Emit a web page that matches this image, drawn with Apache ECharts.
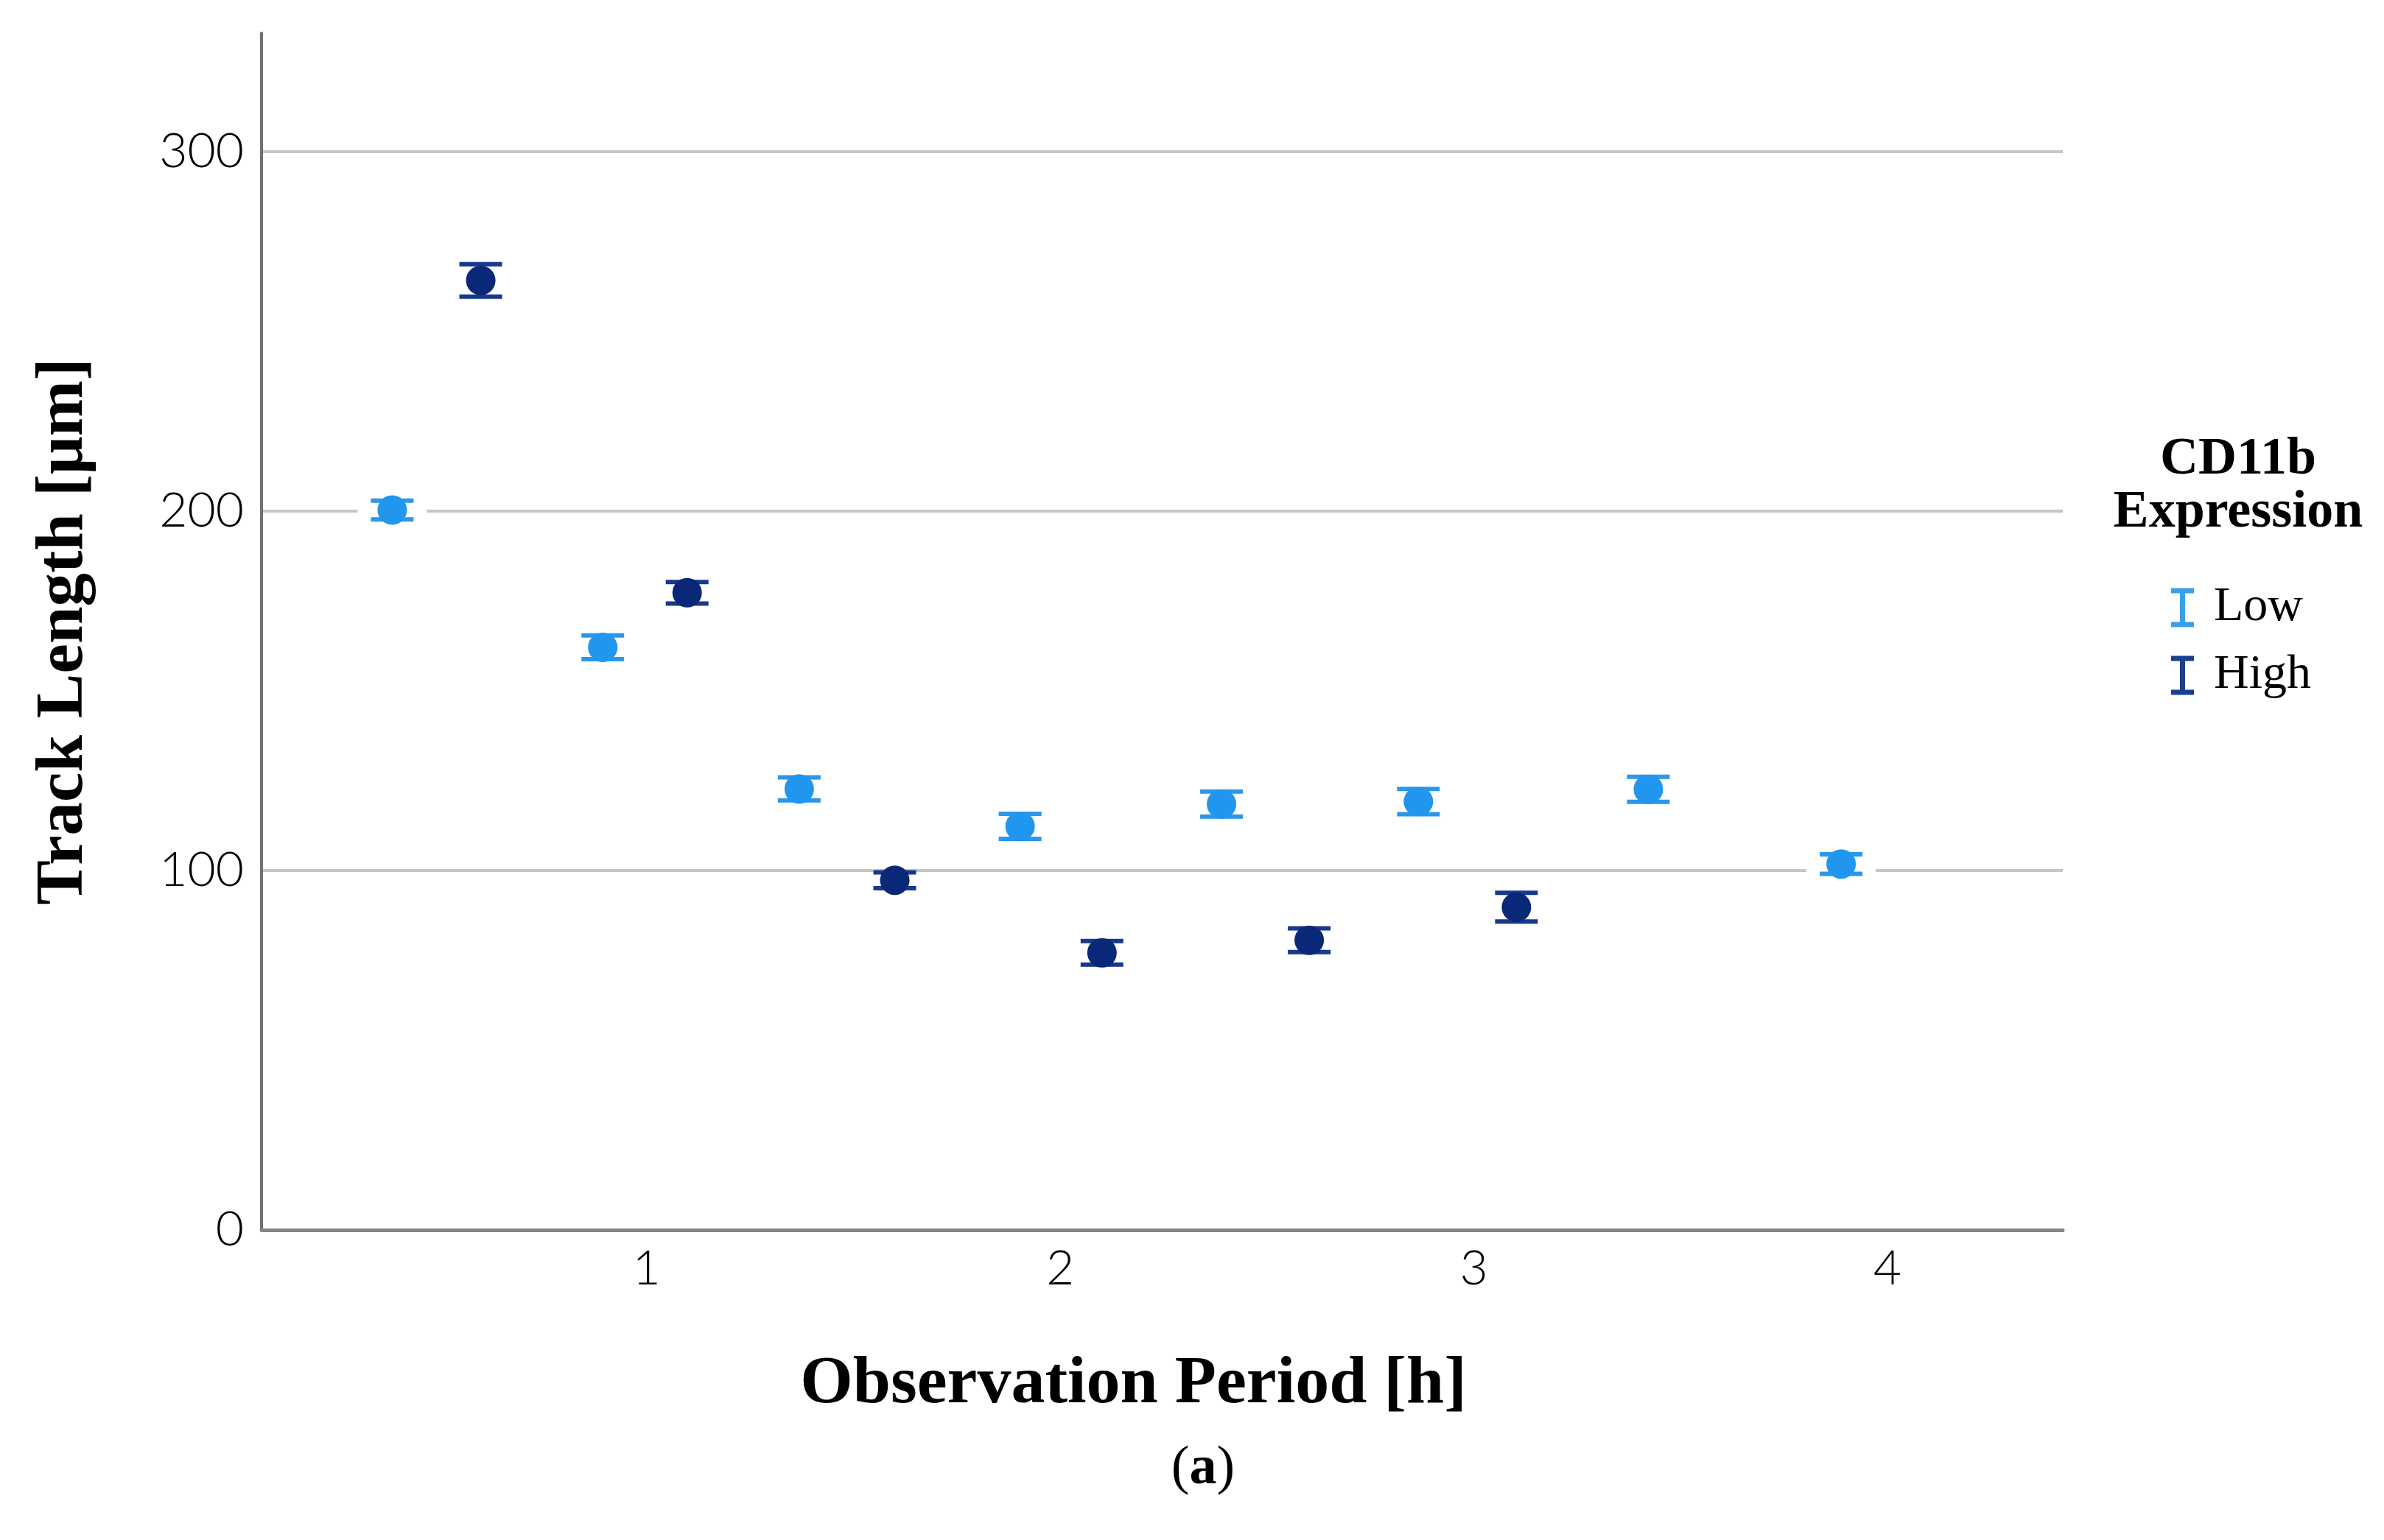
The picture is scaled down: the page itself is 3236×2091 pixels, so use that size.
<!DOCTYPE html>
<html>
<head>
<meta charset="utf-8">
<script src="https://cdn.jsdelivr.net/npm/echarts@6/dist/echarts.min.js"></script>
<style>
html,body{margin:0;padding:0;background:#fff;}
#chart{width:3236px;height:2091px;}
</style>
</head>
<body>
<div id="chart"></div>
<script>
// ---- data ----
const xTickValues = [1, 2, 3, 4];
const yTickValues = [0, 100, 200, 300];
const seriesNames = ['Low', 'High'];
const lowX    = [0.385, 0.894, 1.369, 1.903, 2.390, 2.866, 3.422, 3.888];
const lowMean = [200.3, 162.1, 122.7, 112.3, 118.5, 119.2, 122.6, 101.8];
const lowErr  = [2.6, 3.3, 3.2, 3.5, 3.5, 3.5, 3.5, 2.7];
const highX    = [0.599, 1.098, 1.600, 2.101, 2.602, 3.103];
const highMean = [264.2, 177.3, 97.3, 77.1, 80.6, 89.8];
const highErr  = [4.5, 3.0, 2.2, 3.3, 3.3, 4.0];

const SERIF = '"Liberation Serif", "DejaVu Serif", serif';
const SANS = 'Lato, "Open Sans", sans-serif';

function makeData(xs, ms, es) {
  return xs.map((x, i) => [x, ms[i], es[i]]);
}

function errRender(markerColor, capColor, halo) {
  return function (params, api) {
    const x = api.value(0), m = api.value(1), e = api.value(2);
    const c = api.coord([x, m]);
    const top = api.coord([x, m + e]);
    const bot = api.coord([x, m - e]);
    const hw = 29, pad = 18;
    const children = [];
    if (halo) {
      children.push({ type: 'rect', shape: { x: c[0] - hw - pad, y: top[1] - pad, width: 2 * (hw + pad), height: bot[1] - top[1] + 2 * pad }, style: { fill: '#ffffff' } });
    }
    children.push(
      { type: 'line', shape: { x1: c[0], y1: top[1], x2: c[0], y2: bot[1] }, style: { stroke: capColor, lineWidth: 5 } },
      { type: 'line', shape: { x1: c[0] - hw, y1: top[1], x2: c[0] + hw, y2: top[1] }, style: { stroke: capColor, lineWidth: 6 } },
      { type: 'line', shape: { x1: c[0] - hw, y1: bot[1], x2: c[0] + hw, y2: bot[1] }, style: { stroke: capColor, lineWidth: 6 } },
      { type: 'circle', shape: { cx: c[0], cy: c[1], r: 20 }, style: { fill: markerColor } }
    );
    return { type: 'group', children: children };
  };
}

const chart = echarts.init(document.getElementById('chart'), null, { renderer: 'canvas' });
const ibeam = 'path://M0,0 H31 V7 H19 V46 H31 V53 H0 V46 H12 V7 H0 Z';

chart.setOption({
  backgroundColor: '#ffffff',
  animation: false,
  grid: { left: 355, right: 436, top: 45, bottom: 421, containLabel: false },
  xAxis: {
    type: 'value',
    min: 0.069, max: 4.424,
    name: 'Observation Period [h]',
    nameLocation: 'middle',
    nameGap: 164,
    nameTextStyle: { fontFamily: SERIF, fontWeight: 'bold', fontSize: 92, color: '#000', padding: [0, 78, 0, 0] },
    axisLine: { show: true, lineStyle: { color: '#858585', width: 5 } },
    axisTick: { show: false, customValues: xTickValues },
    axisLabel: { customValues: xTickValues, fontFamily: SANS, fontWeight: 300, fontSize: 66, color: '#000', margin: 20 },
    splitLine: { show: false }
  },
  yAxis: {
    type: 'value',
    min: 0, max: 333,
    name: 'Track Length [μm]',
    nameLocation: 'middle',
    nameRotate: 90,
    nameGap: 222,
    nameTextStyle: { fontFamily: SERIF, fontWeight: 'bold', fontSize: 91, color: '#000' },
    axisLine: { show: true, lineStyle: { color: '#707070', width: 4 } },
    axisTick: { show: false, customValues: yTickValues },
    axisLabel: { customValues: yTickValues, fontFamily: SANS, fontWeight: 300, fontSize: 66, color: '#000', margin: 24 },
    splitLine: { show: true, lineStyle: { color: '#c6c6c6', width: 4 } }
  },
  legend: {
    orient: 'vertical',
    left: 2942, top: 787,
    itemWidth: 31, itemHeight: 53, itemGap: 26,
    icon: ibeam,
    textStyle: { fontFamily: SERIF, fontSize: 66, color: '#000', padding: [0, 0, 0, 22] },
    data: [
      { name: seriesNames[0], itemStyle: { color: '#3a9fea' } },
      { name: seriesNames[1], itemStyle: { color: '#1b3f8e' } }
    ]
  },
  graphic: [
    { type: 'text', x: 3038, y: 588, style: { text: 'CD11b\nExpression', fontFamily: SERIF, fontWeight: 'bold', fontSize: 72, lineHeight: 72, fill: '#000', align: 'center', verticalAlign: 'top' } },
    { type: 'text', x: 1633, y: 1958, style: { text: '{n|(}{b|a}{n|)}', align: 'center', verticalAlign: 'top', rich: { n: { fontFamily: SERIF, fontSize: 74, fill: '#000' }, b: { fontFamily: SERIF, fontSize: 74, fontWeight: 'bold', fill: '#000' } } } }
  ],
  series: [
    {
      name: seriesNames[0], type: 'custom',
      itemStyle: { color: '#2196ee' },
      renderItem: errRender('#2196ee', '#2b97ec', true),
      encode: { x: 0, y: 1 },
      data: makeData(lowX, lowMean, lowErr)
    },
    {
      name: seriesNames[1], type: 'custom',
      itemStyle: { color: '#0b2a80' },
      renderItem: errRender('#0a2878', '#17388c', false),
      encode: { x: 0, y: 1 },
      data: makeData(highX, highMean, highErr)
    }
  ]
});
</script>
</body>
</html>
